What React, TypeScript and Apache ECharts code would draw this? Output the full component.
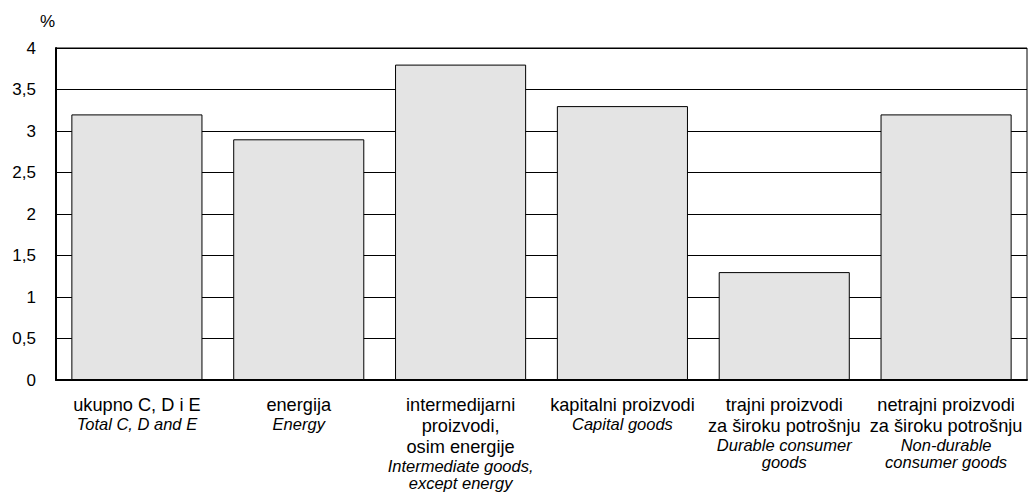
import React, { useEffect, useRef } from "react";
import * as echarts from "echarts";

const categoriesHr: string[][] = [
  ["ukupno C, D i E"],
  ["energija"],
  ["intermedijarni", "proizvodi,", "osim energije"],
  ["kapitalni proizvodi"],
  ["trajni proizvodi", "za široku potrošnju"],
  ["netrajni proizvodi", "za široku potrošnju"],
];
const categoriesEn: string[][] = [
  ["Total C, D and E"],
  ["Energy"],
  ["Intermediate goods,", "except energy"],
  ["Capital goods"],
  ["Durable consumer", "goods"],
  ["Non-durable", "consumer goods"],
];
const values: number[] = [3.2, 2.9, 3.8, 3.3, 1.3, 3.2];
const yTicks: string[] = ["0", "0,5", "1", "1,5", "2", "2,5", "3", "3,5", "4"];

const FONT = "Liberation Sans, Arial, sans-serif";

export default function App() {
  const ref = useRef<HTMLDivElement>(null);
  useEffect(() => {
    if (!ref.current) return;
    const chart = echarts.init(ref.current, null, { renderer: "svg" });
    const labels = categoriesHr.map((hr, i) =>
      [...hr.map((t) => `{a|${t}}`), ...categoriesEn[i].map((t) => `{b|${t}}`)].join("\n")
    );
    chart.setOption({
      animation: false,
      textStyle: { fontFamily: FONT },
      grid: {
        left: 56,
        right: 3,
        top: 48,
        bottom: 113,
        show: true,
        borderColor: "#000",
        borderWidth: 1,
      },
      graphic: [
        {
          type: "text",
          left: 40,
          top: 13,
          style: { text: "%", fontSize: 17, fill: "#000", fontFamily: FONT },
        },
      ],
      xAxis: {
        type: "category",
        data: labels,
        axisTick: { show: false },
        axisLine: { lineStyle: { color: "#000", width: 2 } },
        axisLabel: {
          interval: 0,
          margin: 14,
          color: "#000",
          verticalAlign: "top",
          rich: {
            a: { fontSize: 18.2, lineHeight: 21, color: "#000", fontFamily: FONT },
            b: { fontSize: 16.5, lineHeight: 17.5, fontStyle: "italic", color: "#000", fontFamily: FONT },
          },
        },
      },
      yAxis: {
        type: "value",
        min: 0,
        max: 4,
        interval: 0.5,
        axisLine: { show: true, lineStyle: { color: "#000", width: 2 } },
        axisTick: { show: false },
        splitLine: { lineStyle: { color: "#000", width: 1 } },
        axisLabel: {
          color: "#000",
          fontSize: 17,
          margin: 20,
          formatter: (v: number) => yTicks[Math.round(v * 2)] ?? "",
        },
      },
      series: [
        {
          type: "bar",
          data: values,
          barCategoryGap: "19%",
          itemStyle: { color: "#e4e4e4", borderColor: "#000", borderWidth: 1 },
        },
      ],
    });
    return () => chart.dispose();
  }, []);
  return (
    <div
      ref={ref}
      style={{ position: "fixed", left: 0, top: 0, width: 1030, height: 493, background: "#fff" }}
    />
  );
}
